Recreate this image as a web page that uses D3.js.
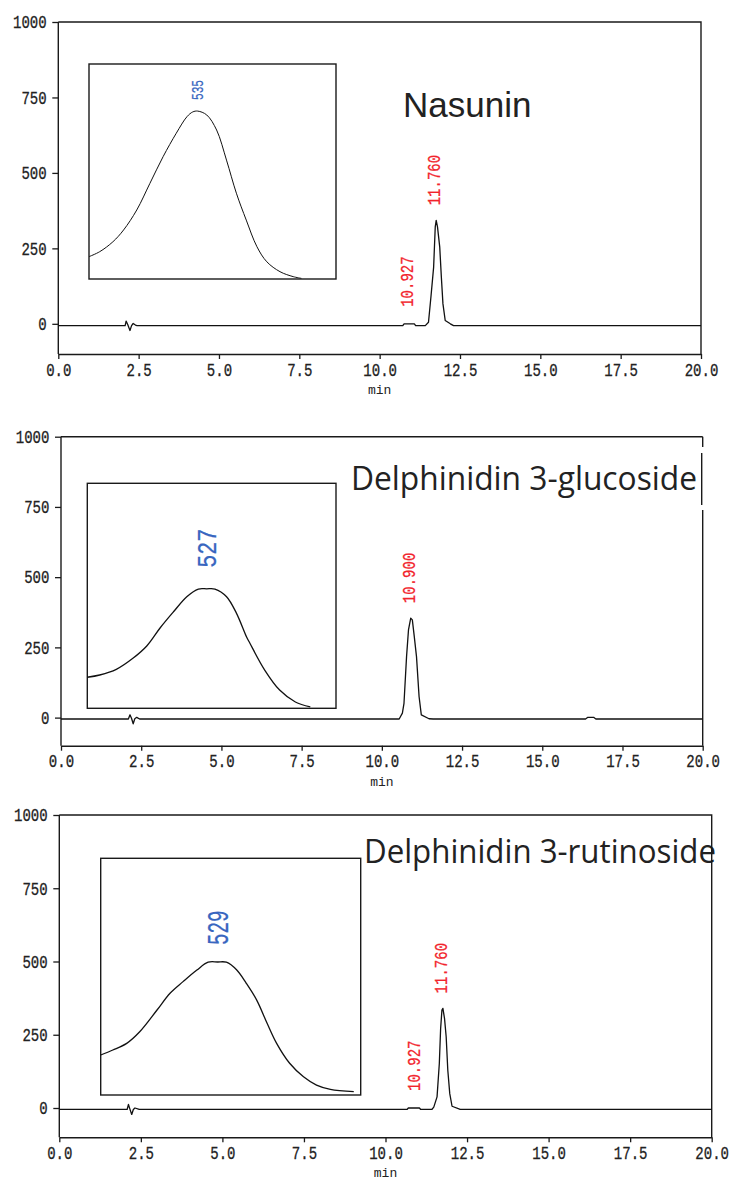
<!DOCTYPE html>
<html>
<head>
<meta charset="utf-8">
<script src="https://cdn.jsdelivr.net/npm/d3@7"></script>
<style>
  body { margin: 0; background: #fff; }
  svg { display: block; }
</style>
</head>
<body>
<svg id="chart" width="732" height="1183"></svg>
<script>
// ---------- Data ----------
// Axis ticks shared by the three chromatograms
const xTicks = [0, 2.5, 5, 7.5, 10, 12.5, 15, 17.5, 20];
const yTicks = [0, 250, 500, 750, 1000];

// Chromatograms: [retention time (min), signal (mAU)]
const nasuninTrace = [
  [0, -6], [2.08, -6], [2.11, 9], [2.16, -2], [2.23, -22], [2.28, -6], [2.33, 1], [2.40, -4], [2.45, -6],
  [10.72, -6], [10.76, 0], [11.08, 0], [11.12, -6], [11.42, -6],
  [11.52, 5], [11.60, 94], [11.68, 188], [11.73, 321], [11.76, 343], [11.80, 321], [11.87, 254],
  [11.92, 155], [11.97, 66], [12.04, 11], [12.20, 0], [12.30, -6], [20, -6]
];
const glucosideTrace = [
  [0, -5], [2.10, -5], [2.15, 10], [2.20, -3], [2.25, -22], [2.30, -4], [2.36, 1], [2.45, -5],
  [10.54, -5], [10.64, 16], [10.69, 51], [10.77, 217], [10.83, 312], [10.90, 354], [10.95, 348],
  [11.01, 289], [11.08, 217], [11.16, 75], [11.23, 10], [11.47, -4], [11.60, -5],
  [16.35, -5], [16.42, 1], [16.60, 1], [16.67, -5], [20, -5]
];
const rutinosideTrace = [
  [0, -5], [2.08, -5], [2.12, 12], [2.16, -2], [2.22, -22], [2.27, -5], [2.32, 0], [2.45, -5],
  [10.66, -5], [10.70, 0], [11.04, 0], [11.08, -5], [11.42, -5],
  [11.48, 3], [11.58, 38], [11.65, 152], [11.69, 271], [11.73, 334], [11.76, 340], [11.81, 305],
  [11.86, 243], [11.91, 129], [11.97, 49], [12.04, 6], [12.29, -5], [20, -5]
];

// Peak annotations: retention time labels
const nasuninPeaks = ["10.927", "11.760"];
const glucosidePeaks = ["10.900"];
const rutinosidePeaks = ["10.927", "11.760"];

// UV-Vis spectra of the main peak: [wavelength (nm), relative absorbance]
const nasuninSpectrum = [
  [403, 0.104], [416, 0.127], [432, 0.173], [445, 0.228], [461, 0.321], [477, 0.445],
  [493, 0.569], [509, 0.678], [522, 0.755], [529, 0.777], [535, 0.781], [546, 0.763],
  [558, 0.693], [570, 0.553], [582, 0.399], [594, 0.274], [607, 0.150], [619, 0.080],
  [635, 0.034], [651, 0.011], [661, 0.003]
];
const glucosideSpectrum = [
  [383, 0.138], [398, 0.148], [418, 0.173], [438, 0.222], [455, 0.278], [471, 0.358],
  [487, 0.429], [503, 0.496], [517, 0.530], [527, 0.531], [537, 0.530], [551, 0.496],
  [563, 0.422], [575, 0.318], [579, 0.290], [597, 0.170], [615, 0.081], [634, 0.028], [652, 0.006]
];
const rutinosideSpectrum = [
  [394, 0.169], [408, 0.190], [424, 0.218], [439, 0.267], [459, 0.359], [474, 0.430],
  [489, 0.479], [505, 0.528], [518, 0.561], [529, 0.562], [539, 0.561], [551, 0.528],
  [562, 0.472], [574, 0.401], [586, 0.303], [597, 0.218], [612, 0.134], [628, 0.077],
  [643, 0.042], [659, 0.024], [686, 0.014]
];
const spectrumMaxima = ["535", "527", "529"];
const compoundNames = ["Nasunin", "Delphinidin 3-glucoside", "Delphinidin 3-rutinoside"];

// ---------- Layout ----------
const panels = [
  {
    name: compoundNames[0], trace: nasuninTrace, peaks: nasuninPeaks,
    spectrum: nasuninSpectrum, lambdaMax: spectrumMaxima[0],
    frame: { l: 58.3, r: 701, t: 22, b: 354 },
    inset: { l: 89, r: 336, t: 64, b: 279, wl: [403, 703], font: 17, sx: 0.66, gap: 11, width: 1 },
    title: { x: 403, y: 117, font: "'Liberation Sans', Arial, sans-serif", size: 35, len: null }
  },
  {
    name: compoundNames[1], trace: glucosideTrace, peaks: glucosidePeaks,
    spectrum: glucosideSpectrum, lambdaMax: spectrumMaxima[1],
    frame: { l: 61, r: 702.7, t: 436.7, b: 745.7 },
    inset: { l: 87.3, r: 336, t: 483.3, b: 708.3, wl: [383, 683], font: 28, sx: 0.78, gap: 21, width: 1.3 },
    title: { x: 351, y: 490, font: "'Open Sans', 'Noto Sans', sans-serif", size: 33, len: 346,
             mask: { x: 340, y: 447, w: 366, h: 63 }, edge: { x: 701.7, y1: 453, y2: 505 } }
  },
  {
    name: compoundNames[2], trace: rutinosideTrace, peaks: rutinosidePeaks,
    spectrum: rutinosideSpectrum, lambdaMax: spectrumMaxima[2],
    frame: { l: 59.3, r: 711.7, t: 815, b: 1137.3 },
    inset: { l: 100.7, r: 360.7, t: 858.3, b: 1095, wl: [394, 694], font: 30, sx: 0.64, gap: 17, width: 1.3 },
    title: { x: 364, y: 863, font: "'Open Sans', 'Noto Sans', sans-serif", size: 32, len: 352 }
  }
];

const INK = "#1a1a1a";
const RED = "#f2232b";
const BLUE = "#3866c0";
const MONO = "'Liberation Mono', 'DejaVu Sans Mono', monospace";

const svg = d3.select("#chart");

// Narrow vertical label (text reads bottom to top, centred on x)
function verticalLabel(g, x, y, str, size, sx, color) {
  g.append("text")
    .attr("transform", `translate(${x},${y}) rotate(-90) scale(${sx},1)`)
    .attr("dy", "0.33em")
    .attr("font-family", MONO)
    .attr("font-size", size)
    .attr("fill", color)
    .attr("stroke", color).attr("stroke-width", 0.25)
    .text(str);
}

panels.forEach(p => {
  const f = p.frame;
  const g = svg.append("g");

  const x = d3.scaleLinear().domain([0, 20]).range([f.l, f.r]);
  const y = d3.scaleLinear().domain([-100, 1000]).range([f.b, f.t]);

  // Inset spectrum box (drawn first so the frame and trace sit on top)
  const ins = p.inset;
  const xi = d3.scaleLinear().domain(ins.wl).range([ins.l, ins.r]);
  const yi = d3.scaleLinear().domain([0, 1]).range([ins.b, ins.t]);
  g.append("rect")
    .attr("x", ins.l).attr("y", ins.t)
    .attr("width", ins.r - ins.l).attr("height", ins.b - ins.t)
    .attr("fill", "#fff").attr("stroke", INK).attr("stroke-width", 1.4);
  g.append("path")
    .datum(p.spectrum)
    .attr("fill", "none").attr("stroke", "#111").attr("stroke-width", ins.width)
    .attr("d", d3.line().x(d => xi(d[0])).y(d => yi(d[1])).curve(d3.curveCatmullRom.alpha(0.5)));
  const lm = +p.lambdaMax;
  const top = p.spectrum.find(d => d[0] === lm);
  verticalLabel(g, xi(lm), yi(top[1]) - ins.gap, p.lambdaMax, ins.font, ins.sx, BLUE);

  // Title
  const t = p.title;
  if (t.mask) {
    g.append("rect").attr("x", t.mask.x).attr("y", t.mask.y)
      .attr("width", t.mask.w).attr("height", t.mask.h).attr("fill", "#fff");
  }
  const title = g.append("text")
    .attr("x", t.x).attr("y", t.y)
    .attr("font-family", t.font).attr("font-size", t.size)
    .attr("fill", "#222")
    .text(p.name);
  if (t.len) title.attr("textLength", t.len).attr("lengthAdjust", "spacingAndGlyphs");

  // Frame: top and right edges
  if (t.mask) {
    g.append("line").attr("x1", f.l).attr("x2", f.r).attr("y1", f.t).attr("y2", f.t)
      .attr("stroke", INK).attr("stroke-width", 1.4);
    g.append("line").attr("x1", f.r).attr("x2", f.r).attr("y1", f.t).attr("y2", t.mask.y)
      .attr("stroke", INK).attr("stroke-width", 1.4);
    g.append("line").attr("x1", f.r).attr("x2", f.r).attr("y1", t.mask.y + t.mask.h).attr("y2", f.b)
      .attr("stroke", INK).attr("stroke-width", 1.4);
    g.append("line").attr("x1", t.edge.x).attr("x2", t.edge.x).attr("y1", t.edge.y1).attr("y2", t.edge.y2)
      .attr("stroke", INK).attr("stroke-width", 1.4);
  } else {
    g.append("path")
      .attr("d", `M${f.l},${f.t}H${f.r}V${f.b}`)
      .attr("fill", "none").attr("stroke", INK).attr("stroke-width", 1.4);
  }

  // Axes
  const yAxis = g.append("g")
    .attr("transform", `translate(${f.l},0)`)
    .call(d3.axisLeft(y).tickValues(yTicks).tickFormat(d3.format("d"))
      .tickSize(6).tickPadding(5).tickSizeOuter(0));
  const xAxis = g.append("g")
    .attr("transform", `translate(0,${f.b})`)
    .call(d3.axisBottom(x).tickValues(xTicks).tickFormat(d3.format(".1f"))
      .tickSize(5).tickPadding(4).tickSizeOuter(0));

  [yAxis, xAxis].forEach(a => {
    a.select(".domain").attr("stroke", INK).attr("stroke-width", 1.4);
    a.selectAll(".tick line").attr("stroke", INK).attr("stroke-width", 1.3);
    a.selectAll(".tick text")
      .attr("font-family", MONO).attr("font-size", 18).attr("fill", "#222")
      .attr("stroke", "#222").attr("stroke-width", 0.3);
  });
  // Left axis line must reach the bottom frame
  yAxis.select(".domain").attr("d", `M0,${f.b}V${f.t}`);
  yAxis.selectAll(".tick text")
    .attr("x", -11.6 / 0.78)
    .attr("transform", "scale(0.78,1)");
  xAxis.selectAll(".tick text")
    .attr("transform", "scale(0.78,1)");

  g.append("text")
    .attr("x", x(10)).attr("y", f.b + 40)
    .attr("text-anchor", "middle")
    .attr("font-family", MONO).attr("font-size", 13)
    .attr("fill", "#222")
    .text("min");

  // Chromatogram trace
  g.append("path")
    .datum(p.trace)
    .attr("fill", "none").attr("stroke", "#111").attr("stroke-width", 1.3)
    .attr("stroke-linejoin", "round")
    .attr("d", d3.line().x(d => x(d[0])).y(d => y(d[1])));

  // Retention time labels above each peak
  const peakTop = rt => {
    const win = p.trace.filter(d => Math.abs(d[0] - rt) < 0.2);
    return d3.max(win, d => d[1]);
  };
  p.peaks.forEach(lbl => {
    const rt = +lbl;
    const v = peakTop(rt);
    const gap = v > 50 ? 15 : 17;
    verticalLabel(g, x(rt) - 2, y(v) - gap, lbl, 18, 0.78, RED);
  });
});
</script>
</body>
</html>
